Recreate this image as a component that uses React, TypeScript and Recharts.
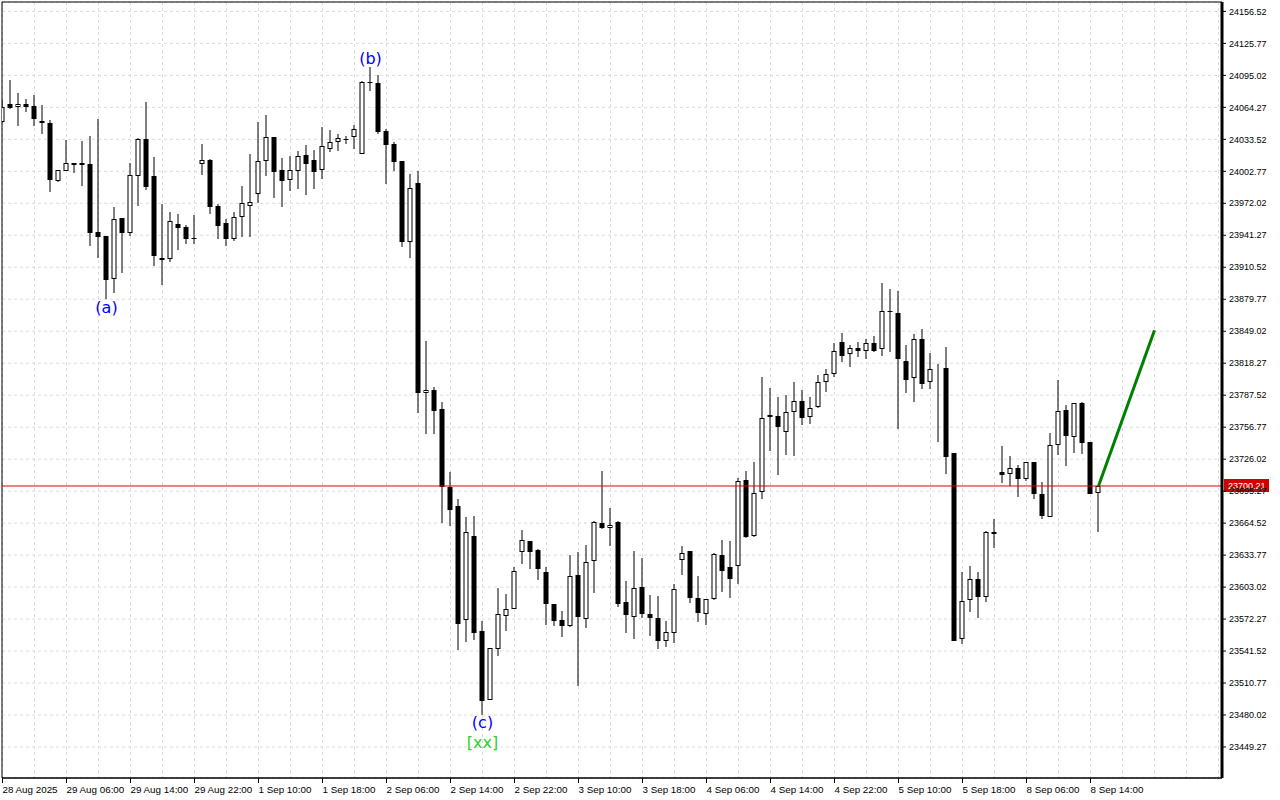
import {
  ComposedChart,
  Bar,
  Line,
  Scatter,
  XAxis,
  YAxis,
  CartesianGrid,
  ReferenceLine,
  ReferenceArea,
} from "recharts";

// H1 candles (index = bar number from the left)
const opens = [
  24050.5, 24067.2, 24064.3, 24067.5, 24065.6, 24051.2, 24049.2, 23993.8, 24003.4, 24010.5,
  24010.5, 24009.8, 23944.4, 23940.6, 23899.0, 23957.6, 23943.8, 23998.6, 24033.6, 23998.0,
  23919.4, 23918.2, 23952.1, 23949.0, 23938.7, 24009.5, 24013.7, 23969.4, 23952.8, 23938.0,
  23958.6, 23969.1, 23980.7, 24012.4, 24035.5, 24004.0, 23994.1, 24002.8, 24018.2, 24013.7,
  24003.8, 24024.5, 24030.7, 24034.1, 24035.5, 24019.1, 24088.4, 24087.4, 24041.8, 24028.8,
  24012.7, 23935.1, 23991.3, 23789.3, 23792.2, 23774.2, 23699.5, 23681.0, 23571.1, 23652.1,
  23560.8, 23494.2, 23543.2, 23574.9, 23581.7, 23637.0, 23647.3, 23638.7, 23617.2, 23586.8,
  23571.4, 23565.3, 23614.4, 23572.0, 23627.8, 23664.6, 23659.5, 23665.6, 23588.4, 23574.0,
  23603.1, 23577.1, 23573.0, 23550.9, 23558.6, 23628.8, 23637.7, 23592.2, 23576.9, 23591.3,
  23633.6, 23622.0, 23623.0, 23705.7, 23651.9, 23694.2, 23766.3, 23767.2, 23751.8, 23771.4,
  23781.9, 23766.3, 23775.9, 23800.5, 23807.6, 23838.7, 23826.8, 23832.6, 23829.7, 23837.4,
  23831.6, 23868.2, 23866.3, 23820.1, 23803.8, 23841.3, 23799.9, 23814.3, 23813.4, 23731.9,
  23552.8, 23590.3, 23610.5, 23593.2, 23654.1, 23713.4, 23711.5, 23717.2, 23707.2, 23723.0,
  23692.5, 23670.7, 23739.3, 23773.3, 23747.6, 23779.7, 23742.2, 23693.2,
];
const highs = [
  24071.4, 24090.6, 24077.8, 24072.0, 24076.2, 24066.5, 24052.1, 24004.0, 24032.9, 24010.5,
  24031.9, 24036.7, 24052.8, 23940.6, 23968.5, 23957.6, 24010.5, 24034.5, 24069.1, 24016.3,
  23971.4, 23963.7, 23961.7, 23951.2, 23960.8, 24029.0, 24014.6, 23971.4, 23956.9, 23963.7,
  23988.7, 24019.4, 24050.2, 24056.9, 24035.5, 24015.6, 24017.2, 24022.6, 24028.1, 24023.3,
  24045.1, 24042.5, 24038.4, 24037.0, 24047.3, 24089.9, 24103.4, 24095.4, 24043.5, 24031.0,
  24012.7, 24000.2, 24002.8, 23839.6, 23795.1, 23781.0, 23713.7, 23687.7, 23670.4, 23671.4,
  23570.7, 23544.2, 23602.1, 23596.4, 23622.3, 23657.9, 23647.3, 23639.6, 23622.0, 23586.8,
  23580.0, 23633.9, 23636.5, 23643.5, 23666.6, 23714.6, 23679.1, 23666.6, 23608.9, 23637.7,
  23631.0, 23595.4, 23594.4, 23570.1, 23606.0, 23642.5, 23637.7, 23613.7, 23591.6, 23635.5,
  23648.3, 23647.3, 23707.6, 23714.6, 23723.0, 23804.7, 23794.1, 23785.8, 23787.4, 23800.2,
  23792.5, 23785.8, 23806.9, 23813.0, 23837.4, 23847.0, 23835.5, 23838.7, 23841.3, 23844.4,
  23895.1, 23889.6, 23887.7, 23835.5, 23846.4, 23850.9, 23827.8, 23817.2, 23833.6, 23731.9,
  23617.2, 23623.3, 23617.2, 23656.9, 23668.5, 23738.7, 23729.1, 23720.4, 23723.6, 23723.0,
  23703.8, 23750.9, 23802.1, 23778.1, 23779.7, 23781.0, 23742.2, 23700.5,
];
const lows = [
  24049.2, 24062.7, 24046.6, 24059.5, 24046.6, 24038.4, 23983.2, 23992.5, 24003.4, 24001.4,
  23988.7, 23931.3, 23919.7, 23879.7, 23886.1, 23905.3, 23940.9, 23969.7, 23984.8, 23911.7,
  23893.5, 23915.9, 23927.1, 23932.9, 23932.9, 23999.2, 23961.7, 23937.7, 23931.3, 23935.8,
  23939.9, 23939.9, 23972.6, 23998.3, 23977.4, 23968.8, 23984.1, 23986.1, 23980.3, 23986.1,
  23995.1, 24021.6, 24022.6, 24029.3, 24024.5, 24019.1, 24080.3, 24038.4, 23990.9, 24003.4,
  23930.3, 23919.7, 23770.7, 23750.5, 23750.5, 23664.9, 23662.0, 23542.5, 23550.5, 23552.1,
  23480.0, 23494.2, 23537.0, 23561.1, 23581.7, 23624.9, 23620.7, 23609.6, 23566.9, 23565.9,
  23555.3, 23564.9, 23508.2, 23564.0, 23597.6, 23658.6, 23642.8, 23584.2, 23559.2, 23552.8,
  23573.6, 23556.3, 23543.8, 23545.1, 23549.5, 23614.9, 23588.0, 23569.7, 23566.3, 23590.6,
  23598.6, 23592.8, 23606.0, 23649.9, 23650.9, 23687.4, 23734.2, 23711.1, 23730.3, 23729.3,
  23759.1, 23760.1, 23774.9, 23790.3, 23804.7, 23819.7, 23814.9, 23824.5, 23822.6, 23829.3,
  23825.5, 23829.3, 23755.0, 23789.9, 23781.3, 23793.8, 23793.8, 23742.8, 23711.5, 23551.5,
  23548.3, 23578.8, 23573.6, 23589.0, 23640.6, 23703.4, 23699.9, 23689.9, 23705.3, 23688.0,
  23668.8, 23670.1, 23730.3, 23719.7, 23732.2, 23731.3, 23692.2, 23656.3,
];
const closes = [
  24064.9, 24063.9, 24067.5, 24064.3, 24053.4, 24048.9, 23994.1, 24004.0, 24010.5, 24009.1,
  24009.1, 23943.8, 23939.9, 23898.3, 23956.6, 23943.8, 23999.0, 24033.6, 23988.0, 23921.6,
  23917.8, 23954.7, 23948.6, 23938.0, 23937.7, 24013.4, 23968.8, 23950.5, 23938.0, 23958.9,
  23972.0, 23973.0, 24012.4, 24035.5, 24002.4, 23993.8, 24004.0, 24017.2, 24010.1, 24002.4,
  24026.8, 24030.7, 24034.5, 24032.9, 24043.8, 24088.4, 24087.7, 24040.9, 24028.1, 24012.0,
  23934.8, 23986.5, 23789.9, 23792.2, 23772.6, 23699.5, 23677.4, 23567.2, 23655.7, 23559.2,
  23493.8, 23544.2, 23576.9, 23581.7, 23618.2, 23648.0, 23636.5, 23620.7, 23586.5, 23570.7,
  23565.9, 23613.4, 23574.5, 23626.9, 23665.6, 23660.1, 23662.4, 23586.5, 23575.9, 23602.1,
  23577.4, 23573.0, 23551.5, 23559.5, 23600.9, 23636.1, 23592.8, 23577.8, 23591.3, 23634.5,
  23618.8, 23611.1, 23704.7, 23650.9, 23693.2, 23765.3, 23768.2, 23757.2, 23771.4, 23781.9,
  23765.3, 23774.9, 23799.9, 23807.9, 23829.7, 23825.5, 23832.6, 23830.3, 23837.4, 23830.3,
  23868.2, 23867.8, 23822.0, 23802.4, 23841.3, 23798.6, 23812.4, 23814.9, 23728.4, 23551.5,
  23589.3, 23610.5, 23593.8, 23655.7, 23656.0, 23711.1, 23717.2, 23707.2, 23723.0, 23692.8,
  23671.7, 23739.3, 23772.0, 23748.6, 23779.7, 23741.8, 23692.8, 23700.2,
];

// one label every 8 bars, starting at bar 0
const timeLabels = [
  "28 Aug 2025", "29 Aug 06:00", "29 Aug 14:00", "29 Aug 22:00", "1 Sep 10:00", "1 Sep 18:00",
  "2 Sep 06:00", "2 Sep 14:00", "2 Sep 22:00", "3 Sep 10:00", "3 Sep 18:00", "4 Sep 06:00",
  "4 Sep 14:00", "4 Sep 22:00", "5 Sep 10:00", "5 Sep 18:00", "8 Sep 06:00", "8 Sep 14:00",
];
const priceTicks = [
  24156.52, 24125.77, 24095.02, 24064.27, 24033.52, 24002.77, 23972.02, 23941.27, 23910.52,
  23879.77, 23849.02, 23818.27, 23787.52, 23756.77, 23726.02, 23695.27, 23664.52, 23633.77,
  23603.02, 23572.27, 23541.52, 23510.77, 23480.02, 23449.27,
];
const lastPrice = 23700.21;

// forecast segment
const projBars = [137, 144];
const projPrices = [23700.2, 23850];

// wave marks
const waveText = ["(a)", "(b)", "(c)", "[xx]"];
const waveBars = [13, 46, 60, 60];
const wavePrices = [23872.3, 24111.7, 23473.3, 23454.1];
const waveColors = ["#0000ff", "#0000ff", "#0000ff", "#33cc33"];

const X_MIN = -0.0625;
const X_MAX = 152.4375;
const Y_MIN = 23419.46;
const Y_MAX = 24165.56;

const FONT = "Tahoma, 'Liberation Sans', Arial, sans-serif";

const candles = opens.map((open, i) => ({
  i,
  open,
  high: highs[i],
  low: lows[i],
  close: closes[i],
}));
const projection = projBars.map((i, k) => ({ i, p: projPrices[k] }));
const notes = waveText.map((text, k) => ({
  i: waveBars[k],
  p: wavePrices[k],
  text,
  color: waveColors[k],
}));
const gridTicks = Array.from({ length: 39 }, (_, k) => k * 4);

function Candle(props: any) {
  const { x, y, width, height, payload } = props;
  if (!payload || height == null || isNaN(y)) return null;
  const top = Math.min(y, y + height);
  const h = Math.abs(height);
  const { open, high, low, close } = payload;
  const k = high > low ? h / (high - low) : 0;
  const yOf = (v: number) => Math.round(top + (high - v) * k);
  const cx = x + width / 2;
  const bodyTop = yOf(Math.max(open, close));
  const bodyBot = yOf(Math.min(open, close));
  const up = close > open;
  return (
    <g>
      <line x1={cx} x2={cx} y1={Math.round(top)} y2={Math.round(top + h)} stroke="#000" />
      {up ? (
        <rect
          x={x + 0.5}
          y={bodyTop + 0.5}
          width={width - 1}
          height={Math.max(bodyBot - bodyTop - 1, 0)}
          fill="#fff"
          stroke="#000"
        />
      ) : (
        <rect x={x} y={bodyTop} width={width} height={Math.max(bodyBot - bodyTop, 1)} fill="#000" />
      )}
    </g>
  );
}

function TimeTick(props: any) {
  const { x, y, payload } = props;
  const v = payload.value;
  if (v % 8 !== 0) return null;
  const label = timeLabels[v / 8];
  if (!label) return null;
  return (
    <g>
      <line x1={x} x2={x} y1={y} y2={y + 5} stroke="#000" />
      <text x={x} y={y + 14.5} fontSize={9.8} fontFamily={FONT} fill="#000">
        {label}
      </text>
    </g>
  );
}

function PriceTag(props: any) {
  const vb = props.viewBox;
  if (!vb) return null;
  const x = vb.x + vb.width + 2;
  const y = Math.round(vb.y);
  return (
    <g>
      <rect x={x} y={y - 7} width={45} height={13} fill="#d00000" />
      <text x={x + 4} y={y} dy="0.355em" fontSize={9} fontFamily={FONT} fill="#fff">
        {lastPrice.toFixed(2)}
      </text>
    </g>
  );
}

function Note(props: any) {
  const { cx, cy, payload } = props;
  return (
    <text
      x={cx}
      y={cy}
      dy="0.35em"
      textAnchor="middle"
      fontSize={16}
      fontFamily="'DejaVu Sans', sans-serif"
      fill={payload.color}
    >
      {payload.text}
    </text>
  );
}

export default function App() {
  return (
    <div style={{ position: "absolute", left: 0, top: 0, width: 1280, height: 800, background: "#fff" }}>
      <ComposedChart
        width={1280}
        height={800}
        data={candles}
        margin={{ top: 2, right: 0, bottom: 0, left: 2 }}
      >
        <CartesianGrid strokeDasharray="3 3" stroke="#dcdcdc" />
        <XAxis
          dataKey="i"
          type="number"
          domain={[X_MIN, X_MAX]}
          ticks={gridTicks}
          interval={0}
          allowDataOverflow
          height={22}
          stroke="#000"
          tickLine={false}
          tickSize={0}
          tickMargin={0}
          tick={<TimeTick />}
        />
        <YAxis
          orientation="right"
          type="number"
          domain={[Y_MIN, Y_MAX]}
          ticks={priceTicks}
          interval={0}
          allowDataOverflow
          width={58}
          axisLine={{ stroke: "#000", strokeWidth: 3 }}
          tickLine={{ stroke: "#000" }}
          tickSize={4}
          tickMargin={3}
          tick={{ fontSize: 9, fontFamily: FONT, fill: "#000" }}
          tickFormatter={(v: number) => v.toFixed(2)}
        />
        <ReferenceArea
          x1={X_MIN}
          x2={X_MAX}
          y1={Y_MIN}
          y2={Y_MAX}
          fill="none"
          stroke="#000"
          ifOverflow="extendDomain"
        />
        <Bar
          dataKey={(d: any) => [d.low, d.high]}
          barSize={5}
          shape={(p: any) => <Candle {...p} />}
          isAnimationActive={false}
        />
        <ReferenceLine y={lastPrice} stroke="#e00000" label={<PriceTag />} />
        <Line
          data={projection}
          dataKey="p"
          stroke="#008000"
          strokeWidth={3}
          dot={false}
          isAnimationActive={false}
        />
        <Scatter data={notes} dataKey="p" shape={(p: any) => <Note {...p} />} isAnimationActive={false} />
      </ComposedChart>
    </div>
  );
}
